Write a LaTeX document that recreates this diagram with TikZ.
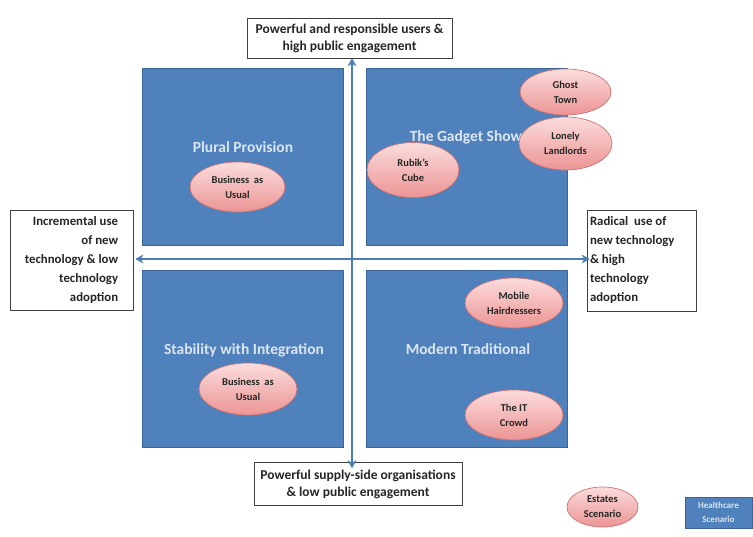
\documentclass[tikz,border=0pt]{standalone}
\usepackage{fontspec}
\setmainfont{Carlito}[BoldFont={Carlito Bold}]
\usetikzlibrary{shapes.geometric,arrows.meta,calc}
\definecolor{qblue}{HTML}{4F81BD}
\definecolor{qborder}{HTML}{3A6494}
\definecolor{qtext}{HTML}{DCE6F2}
\definecolor{pinkT}{HTML}{FBDCDC}
\definecolor{pinkB}{HTML}{EC9494}
\definecolor{pinkD}{HTML}{C0504D}
\definecolor{arrowblue}{HTML}{4A7EBB}
\tikzset{
  quad/.style={draw=qborder, line width=0.8pt, fill=qblue, minimum width=201pt, minimum height=177pt, inner sep=0pt},
  qtitle/.style={text=qtext, font=\bfseries\fontsize{15.5}{17}\selectfont},
  oval/.style={ellipse, draw=pinkD!80, line width=0.7pt, top color=pinkT, bottom color=pinkB, inner sep=0pt, align=center, font=\bfseries\fontsize{10.5}{15}\selectfont, text=black!85},
  labelbox/.style={draw=black!75, line width=0.7pt, fill=white, inner sep=0pt, font=\bfseries\fontsize{13.5}{17}\selectfont, text=black!85},
  axis/.style={arrowblue, line width=2.3pt, {Stealth[length=8pt,width=9pt]}-{Stealth[length=8pt,width=9pt]}}
}
\begin{document}
\begin{tikzpicture}[x=1pt,y=-1pt]
\useasboundingbox (0,0) rectangle (753,536);
% quadrants
\node[quad] (tl) at (242.5,156.5) {};
\node[quad] (tr) at (467,156.5) {};
\node[quad] (bl) at (243,359) {};
\node[quad] (br) at (467,359) {};
% axis label boxes
\node[labelbox, minimum width=205pt, minimum height=40pt, align=center] (top) at (349.5,38) {Powerful and responsible users \&\\high public engagement};
\node[labelbox, minimum width=208pt, minimum height=43pt, align=center] (bot) at (358,484) {Powerful supply-side organisations\\\& low public engagement};
\node[labelbox, minimum width=123pt, minimum height=100pt, align=right, font=\bfseries\fontsize{12.8}{19}\selectfont] (lft) at (71.5,260) {Incremental use\\of new\\technology \& low\\technology\\adoption};
\node[labelbox, minimum width=109pt, minimum height=101pt, font=\bfseries\fontsize{12.8}{19}\selectfont] (rgt) at (641.5,260.5) {\parbox{103pt}{\raggedright Radical\ \ use of\\new technology\\\& high\\technology\\adoption}};
% axes
\coordinate (vx) at (352,0);
\coordinate (hy) at (0,259);
\draw[axis] (top.south -| vx) -- ([yshift=-6pt]bot.north -| vx);
\draw[axis] ([xshift=2pt]lft.east |- hy) -- ([xshift=3pt]rgt.west |- hy);
% quadrant titles
\node[qtitle] (t1) at (243,147) {Plural Provision};
\node[qtitle] (t2) at (466,137) {The Gadget Show};
\node[qtitle] (t3) at (244,350) {Stability with Integration};
\node[qtitle] (t4) at (468,349) {Modern Traditional};
% scenario ovals
\node[oval, minimum width=95pt, minimum height=50pt] (e1) at (237.5,187) {Business\ \ as\\Usual};
\node[oval, minimum width=92pt, minimum height=55pt] (e2) at (413,170) {Rubik's\\Cube};
\node[oval, minimum width=91pt, minimum height=46pt] (e3) at (565.5,92) {Ghost\\Town};
\node[oval, minimum width=93pt, minimum height=53pt] (e4) at (565.5,143.5) {Lonely\\Landlords};
\node[oval, minimum width=98pt, minimum height=52pt] (e5) at (248,389) {Business\ \ as\\Usual};
\node[oval, minimum width=98pt, minimum height=50pt] (e6) at (514,303) {Mobile\\Hairdressers};
\node[oval, minimum width=98pt, minimum height=50pt] (e7) at (514,415) {The IT\\Crowd};
% legend
\node[oval, minimum width=71pt, minimum height=40pt, font=\bfseries\fontsize{10.5}{15}\selectfont] (leg1) at (602.5,507) {Estates\\Scenario};
\node[draw=qborder, fill=qblue, line width=0.6pt, minimum width=67pt, minimum height=31pt, inner sep=0pt, align=center, text=qtext, font=\bfseries\fontsize{9}{14}\selectfont] (leg2) at (718.5,512.5) {Healthcare\\Scenario};
\end{tikzpicture}
\end{document}
